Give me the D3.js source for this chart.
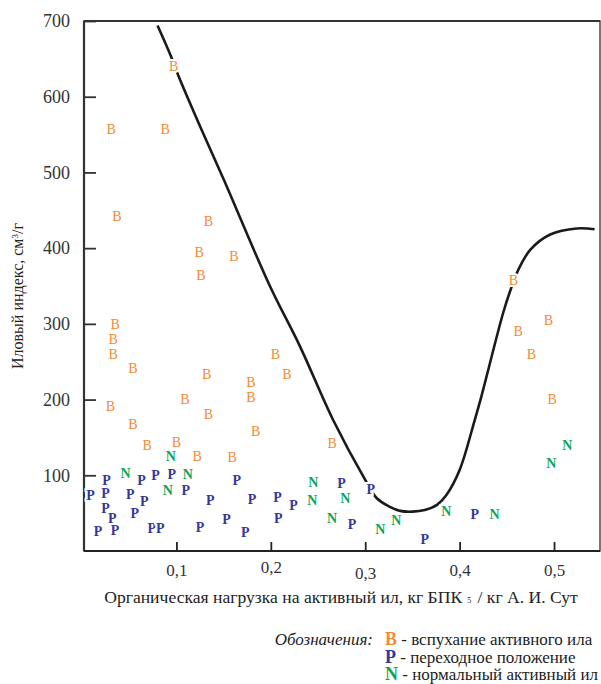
<!DOCTYPE html>
<html><head><meta charset="utf-8">
<script src="https://cdn.jsdelivr.net/npm/d3@7"></script>
<style>
html,body{margin:0;padding:0;background:#fff;}
svg{display:block;}
text{font-family:"Liberation Serif","DejaVu Serif",serif;}
</style></head>
<body>
<svg id="chart" width="601" height="684"></svg>
<script>
// ---- data ----
const xTicks = [0.1, 0.2, 0.3, 0.4, 0.5];
const xTickLabels = ["0,1", "0,2", "0,3", "0,4", "0,5"];
const yTicks = [100, 200, 300, 400, 500, 600, 700];
const yTickLabels = ["100", "200", "300", "400", "500", "600", "700"];

// B - bulking sludge [load, SVI]
const pointsB = [
  [0.097,640],[0.031,557],[0.088,557],[0.037,442],[0.134,436],[0.124,395],[0.161,389],
  [0.126,365],[0.035,300],[0.033,280],[0.033,260],[0.054,241],[0.132,234],[0.205,260],
  [0.217,234],[0.179,223],[0.179,203],[0.109,201],[0.030,191],[0.134,181],[0.054,168],
  [0.184,159],[0.069,140],[0.100,144],[0.122,126],[0.159,124],[0.265,143],[0.457,358],
  [0.494,305],[0.462,290],[0.476,260],[0.498,200]
];
// P - transitional state
const pointsP = [
  [0.026,94],[0.009,74],[0.025,76],[0.063,93],[0.078,100],[0.095,101],[0.051,75],
  [0.066,66],[0.110,81],[0.025,57],[0.032,44],[0.056,50],[0.017,26],[0.035,27],
  [0.074,30],[0.083,30],[0.125,32],[0.164,93],[0.136,67],[0.180,68],[0.207,71],
  [0.224,60],[0.208,43],[0.153,42],[0.173,25],[0.275,90],[0.306,82],[0.286,35],
  [0.363,16],[0.416,49]
];
// N - normal activated sludge
const pointsN = [
  [0.094,126],[0.046,103],[0.112,101],[0.091,81],[0.245,91],[0.244,67],[0.279,70],
  [0.265,43],[0.316,29],[0.333,41],[0.386,53],[0.437,49],[0.497,116],[0.514,140]
];
// boundary curve
const curvePts = [
  [0.080,694],[0.094,654],[0.102,628],[0.125,561],[0.150,491],[0.199,350],[0.231,270],
  [0.266,173],[0.300,94],[0.312,70],[0.325,59],[0.337,53],[0.350,52],[0.363,54],
  [0.376,61],[0.386,74],[0.400,107],[0.416,173],[0.423,204],[0.446,314],[0.454,345],
  [0.462,371],[0.475,398],[0.496,418],[0.524,426],[0.543,425]
];

const xTitle = "Органическая нагрузка на активный ил, кг БПК";
const xTitleSub = "5";
const xTitleTail = " / кг А. И. Сут";
const legendTitle = "Обозначения:";
const legendItems = [
  {key:"B", label:" - вспухание активного ила", color:"#f58a36"},
  {key:"P", label:" - переходное положение", color:"#35379a"},
  {key:"N", label:" - нормальный активный ил", color:"#0ba55a"}
];

// ---- drawing ----
const svg = d3.select("#chart");
const pL = 84, pR = 600, pT = 21, pB = 551;
const x = d3.scaleLinear().domain([0.0021, 0.5487]).range([pL, pR]);
const y = d3.scaleLinear().domain([0, 700]).range([pB, pT]);

// curve
const line = d3.line().x(d => x(d[0])).y(d => y(d[1])).curve(d3.curveCatmullRom.alpha(0.5));
svg.append("path").datum(curvePts).attr("d", line)
  .attr("fill","none").attr("stroke","#1a1a1a").attr("stroke-width",2.6);

// frame
svg.append("rect").attr("x",pL).attr("y",pT).attr("width",pR-pL).attr("height",pB-pT)
  .attr("fill","none").attr("stroke","#555").attr("stroke-width",1.6);
svg.append("line").attr("x1",pL).attr("x2",pL).attr("y1",pT).attr("y2",pB)
  .attr("stroke","#333").attr("stroke-width",2.2);
svg.append("line").attr("x1",pL).attr("x2",pR).attr("y1",pB).attr("y2",pB)
  .attr("stroke","#222").attr("stroke-width",2.2);
svg.append("line").attr("x1",pL).attr("x2",pR).attr("y1",pT).attr("y2",pT)
  .attr("stroke","#333").attr("stroke-width",2.2);

// y axis ticks
const yAxis = d3.axisLeft(y).tickValues(yTicks).tickSize(-12)
  .tickFormat((d,i) => yTickLabels[i]).tickPadding(14);
const gy = svg.append("g").attr("transform",`translate(${pL},0)`).call(yAxis);
gy.select(".domain").remove();
gy.selectAll(".tick line").attr("stroke","#333").attr("stroke-width",1.8);
gy.selectAll(".tick text").attr("font-size",18).attr("fill","#333");

// x axis ticks
const xOffsets = {0.1:0, 0.2:-3, 0.3:3, 0.4:0, 0.5:0};
const xAxis = d3.axisBottom(x).tickValues(xTicks).tickSize(-9)
  .tickFormat((d,i) => xTickLabels[i]).tickPadding(13);
const gx = svg.append("g").attr("transform",`translate(0,${pB})`).call(xAxis);
gx.select(".domain").remove();
gx.selectAll(".tick line").attr("stroke","#222").attr("stroke-width",1.8);
gx.selectAll(".tick text").attr("font-size",17).attr("fill","#333")
  .attr("transform", d => `translate(0,${xOffsets[d]||0})`);

// points
function drawPts(data, letter, color, weight){
  svg.append("g").selectAll("text").data(data).join("text")
    .attr("x", d => x(d[0])).attr("y", d => y(d[1])).attr("dy","0.35em")
    .attr("text-anchor","middle").attr("font-size",14).attr("font-weight",weight)
    .attr("fill",color).attr("stroke","#fff").attr("stroke-width",4)
    .attr("paint-order","stroke").text(letter);
}
drawPts(pointsB, "B", legendItems[0].color, "normal");
drawPts(pointsP, "P", legendItems[1].color, "bold");
drawPts(pointsN, "N", legendItems[2].color, "bold");

// x title
const xt = svg.append("text").attr("x",341).attr("y",603).attr("text-anchor","middle")
  .attr("font-size",17.6).attr("fill","#222");
xt.append("tspan").text(xTitle);
xt.append("tspan").text(xTitleSub).attr("font-size",8).attr("dx",5);
xt.append("tspan").text(xTitleTail).attr("dx",2);

// y title
svg.append("text").attr("transform","translate(23,296) rotate(-90)").attr("text-anchor","middle")
  .attr("font-size",16).attr("fill","#222")
  .html('Иловый индекс, см<tspan baseline-shift="super" font-size="9">3</tspan>/г');

// legend
svg.append("text").attr("x",373).attr("y",645).attr("text-anchor","end")
  .attr("font-size",17).attr("font-style","italic").attr("fill","#222").text(legendTitle);
legendItems.forEach((it,i) => {
  const t = svg.append("text").attr("x",385).attr("y",645 + i*17.5).attr("font-size",17).attr("fill","#222");
  t.append("tspan").text(it.key).attr("fill",it.color).attr("font-weight","bold").attr("font-size",18);
  t.append("tspan").text(it.label);
});
</script>
</body></html>
